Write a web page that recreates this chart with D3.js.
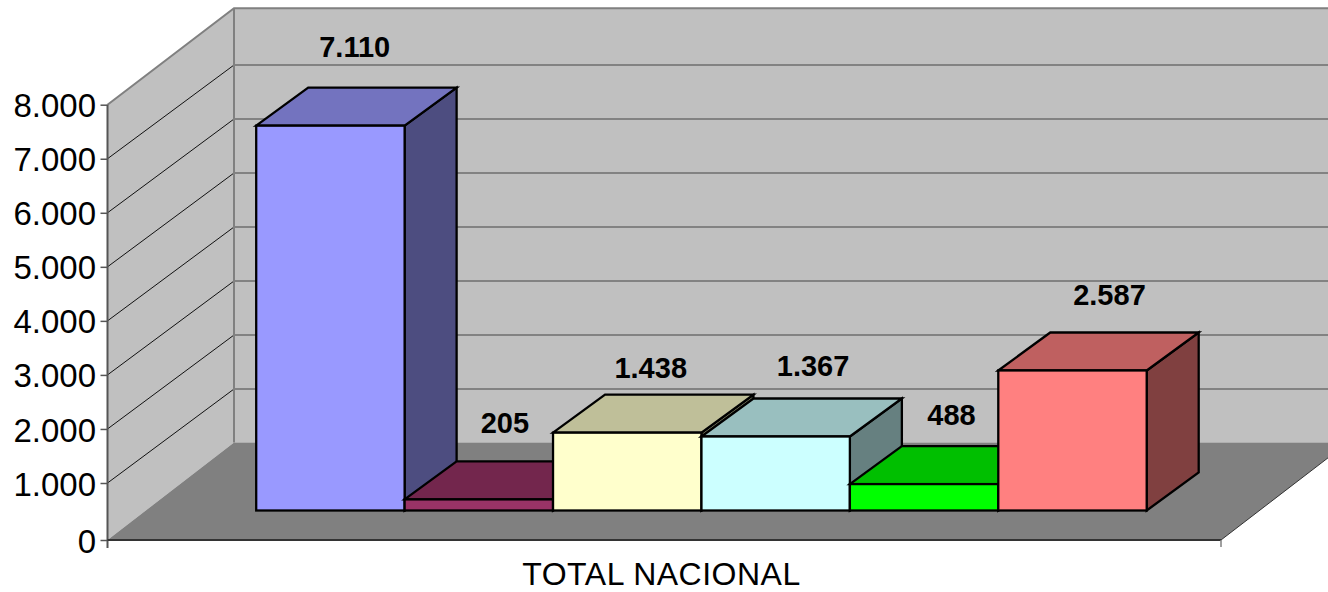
<!DOCTYPE html>
<html><head><meta charset="utf-8">
<script src="https://cdn.jsdelivr.net/npm/d3@7"></script>
<style>html,body{margin:0;padding:0;background:#fff;overflow:hidden}svg{display:block}text{font-family:"Liberation Sans",Arial,sans-serif;fill:#000}</style>
</head><body><svg id="c" width="1328" height="592"></svg>
<script>
const category = "TOTAL NACIONAL";
const seriesNames = ["Serie 1","Serie 2","Serie 3","Serie 4","Serie 5","Serie 6"];
const seriesValues = [7110,205,1438,1367,488,2587];
const seriesColors = ["#9999FF","#993366","#FFFFCC","#CCFFFF","#00FF00","#FF8080"];
const tickValues = [0,1000,2000,3000,4000,5000,6000,7000,8000];

// layout
const W=1328,H=592, X0=107.5,X1=1221, DX=127;
const BASE=510.5, BDX=52, BDY=-38;
const labelShift = [[24.3,-31],[26,-28],[23.5,-16.7],[37.4,-23],[27.4,-21],[37,-27]];

const svg=d3.select("#c");
const fmt=d3.formatLocale({decimal:",",thousands:".",grouping:[3],currency:["",""]}).format(",d");
const y=d3.scaleLinear().domain([0,1000,8000]).range([540,483,104.7]);
const yBack=d3.scaleLinear().domain([0,1000,7000,8000]).range([442.5,389,65,8.3]);
const yBar=d3.scaleLinear().domain([0,8000]).range([BASE,BASE-433]);
const x=d3.scaleBand().domain(seriesNames).range([256.2,1146.7]).padding(0);
const pts=a=>a.map(p=>p.join(",")).join(" ");
const darken=(c,k)=>{const r=d3.rgb(c);return d3.rgb(r.r*k,r.g*k,r.b*k).formatHex();};
const XB=X0+DX-0.5, XE=W+30;

// walls & floor
svg.append("polygon").attr("points",pts([[X0,y(0)],[X0,y(8000)],[XB,yBack(8000)],[XB,yBack(0)]])).attr("fill","#C0C0C0");
svg.append("polygon").attr("points",pts([[XB,yBack(8000)],[XE,yBack(8000)],[XE,yBack(0)],[XB,yBack(0)]])).attr("fill","#C0C0C0");
svg.append("polygon").attr("points",pts([[X0,y(0)],[XB,yBack(0)],[X1+DX,yBack(0)],[X1,y(0)]])).attr("fill","#808080");

// gridlines
tickValues.filter(t=>t>0&&t<8000).forEach(t=>{
  svg.append("line").attr("x1",X0).attr("y1",y(t)).attr("x2",XB).attr("y2",yBack(t)).attr("stroke","#111").attr("stroke-width",1);
  svg.append("line").attr("x1",XB).attr("y1",yBack(t)).attr("x2",XE).attr("y2",yBack(t)).attr("stroke","#444").attr("stroke-width",1.2);
});
// wall edges
svg.append("polyline").attr("points",pts([[X0,y(8000)],[XB,yBack(8000)],[XE,yBack(8000)]])).attr("fill","none").attr("stroke","#808080").attr("stroke-width",2);
svg.append("line").attr("x1",XB).attr("x2",XB).attr("y1",yBack(8000)).attr("y2",yBack(0)).attr("stroke","#808080").attr("stroke-width",2);
svg.append("line").attr("x1",X1).attr("y1",y(0)).attr("x2",X1+DX).attr("y2",yBack(0)).attr("stroke","#333").attr("stroke-width",1);

// bars (left to right)
seriesNames.forEach((n,i)=>{
  const v=seriesValues[i],c=seriesColors[i];
  const l=x(n),r=l+x.bandwidth(),t=yBar(v),b=yBar(0);
  const g=svg.append("g").attr("stroke","#000").attr("stroke-width",2.3).attr("stroke-linejoin","miter");
  g.append("polygon").attr("points",pts([[r,b],[r,t],[r+BDX,t+BDY],[r+BDX,b+BDY]])).attr("fill",darken(c,0.5));
  g.append("polygon").attr("points",pts([[l,t],[l+BDX,t+BDY],[r+BDX,t+BDY],[r,t]])).attr("fill",darken(c,0.75));
  g.append("rect").attr("x",l).attr("y",t).attr("width",r-l).attr("height",b-t).attr("fill",c);
});

// value labels
seriesNames.forEach((n,i)=>{
  const v=seriesValues[i];
  svg.append("text").attr("x",x(n)+x.bandwidth()/2+labelShift[i][0])
    .attr("y",yBar(v)+BDY+labelShift[i][1]).attr("text-anchor","middle")
    .attr("font-size",29).attr("font-weight","bold").text(fmt(v));
});

// axes
const ax=svg.append("g").attr("transform",`translate(${X0},0)`)
  .call(d3.axisLeft(y).tickValues(tickValues).tickFormat(fmt).tickSize(7).tickPadding(4.5));
ax.select(".domain").attr("d",`M0,${y(8000)}V${y(0)+8}`).attr("stroke","#555").attr("stroke-width",2);
ax.selectAll(".tick line").attr("stroke","#555").attr("stroke-width",1.5);
ax.selectAll("text").attr("font-size",33).attr("y",1.5).attr("font-family",'"Liberation Sans",Arial,sans-serif').attr("fill","#000");
svg.append("line").attr("x1",X0).attr("x2",X1).attr("y1",y(0)).attr("y2",y(0)).attr("stroke","#333").attr("stroke-width",2);
svg.append("line").attr("x1",X1).attr("x2",X1).attr("y1",y(0)).attr("y2",y(0)+7).attr("stroke","#808080").attr("stroke-width",1.5);
svg.append("text").attr("x",(X0+X1)/2-3).attr("y",585).attr("text-anchor","middle").attr("font-size",32).attr("textLength",278).text(category);
</script></body></html>
